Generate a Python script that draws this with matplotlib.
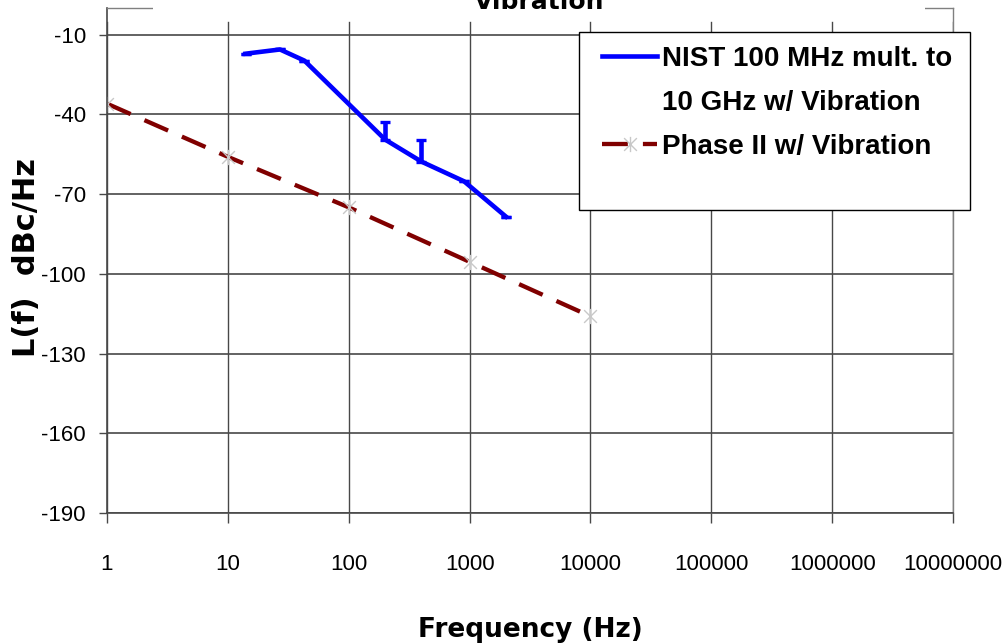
import matplotlib
matplotlib.use("Agg")
import matplotlib.pyplot as plt
from matplotlib.path import Path
from matplotlib.patches import Rectangle
from matplotlib.lines import Line2D
from matplotlib.ticker import FixedLocator, NullLocator, FixedFormatter
from matplotlib import font_manager as fm

# ---------------- data ----------------
nist_freq = [14, 27, 43, 200, 400, 900, 2000]
nist_db = [-17.2, -15.6, -19.8, -49.5, -57.8, -65.2, -78.5]
nist_err_up = [0, 0, 0, 6.5, 8.3, 0, 0]
nist_err_down = [0, 0, 0, 0, 0, 0, 0]

phase_freq = [1, 10, 100, 1000, 10000]
phase_db = [-36, -56, -75, -95.5, -116]

x_ticks = [1, 10, 100, 1000, 10000, 100000, 1000000, 10000000]
x_tick_labels = ["1", "10", "100", "1000", "10000", "100000", "1000000", "10000000"]
y_ticks = [-10, -40, -70, -100, -130, -160, -190]
y_tick_labels = ["-10", "-40", "-70", "-100", "-130", "-160", "-190"]

labels = ["NIST 100 MHz mult. to", "10 GHz w/ Vibration", "Phase II w/ Vibration"]
title_text = "Vibration"
x_label = "Frequency (Hz)"
y_label = "L(f)  dBc/Hz"

# ---------------- fonts ----------------
names = {f.name for f in fm.fontManager.ttflist}
narrow = "Liberation Sans Narrow" if "Liberation Sans Narrow" in names else "Liberation Sans"
plt.rcParams['font.family'] = [narrow, 'DejaVu Sans']

W, H = 1006, 644
fig = plt.figure(figsize=(W / 100, H / 100), dpi=100)
L, R, T, B = 107, 953, 8, 513
ax = fig.add_axes([L / W, 1 - B / H, (R - L) / W, (B - T) / H])

ax.set_xscale('log')
ax.set_xlim(1, 1e7)
ax.set_ylim(-190, 0)

gcol = '#484848'
ax.xaxis.set_major_locator(FixedLocator(x_ticks))
ax.xaxis.set_major_formatter(FixedFormatter(x_tick_labels))
ax.xaxis.set_minor_locator(NullLocator())
ax.set_yticks(y_ticks)
ax.set_yticklabels(y_tick_labels)

ax.grid(axis='y', color=gcol, lw=1.2)
ax.grid(axis='x', visible=False)
for xv in x_ticks:
    ax.axvline(xv, ymin=0, ymax=(B - 22) / (B - T), color=gcol, lw=1.0, zorder=0.5)

for s in ['left', 'bottom']:
    ax.spines[s].set_color(gcol)
    ax.spines[s].set_linewidth(1.2)
for s in ['top', 'right']:
    ax.spines[s].set_color('#808080')
    ax.spines[s].set_linewidth(1.0)

ax.tick_params(axis='y', direction='out', length=5.8, width=1, color=gcol,
               pad=9.4, labelsize=16)
ax.tick_params(axis='x', direction='out', length=7.2, width=1, color=gcol,
               pad=22, labelsize=16)

# NIST series
cont = ax.errorbar(nist_freq, nist_db, yerr=[nist_err_down, nist_err_up],
                   color='#0000ff', lw=3.3, elinewidth=3.3, capsize=3.8, capthick=2.4,
                   zorder=3)
nist_line = cont.lines[0]

# Phase II series
ast = Path([(-1, -1), (1, 1), (-1, 1), (1, -1), (0, -1.2), (0, 1.2)],
           [Path.MOVETO, Path.LINETO, Path.MOVETO, Path.LINETO, Path.MOVETO, Path.LINETO])
phase_line, = ax.plot(phase_freq, phase_db, color='#800000', lw=3.1, dashes=(6, 3.5),
                      marker=ast, ms=11, mec='#c8c8c8', mfc='none', mew=1.0, zorder=2.5)

# white box covering top border behind title
fig.add_artist(Rectangle((153 / W, 1 - 16 / H), (925 - 153) / W, 16 / H,
                         transform=fig.transFigure, fc='white', ec='none', zorder=1))
fig.text(539 / W, 1 - 9 / H, title_text, ha='center', va='baseline', fontsize=18,
         fontweight='bold', family='DejaVu Sans', zorder=3)

# legend frame
fig.add_artist(Rectangle((579 / W, 1 - 210 / H), (970 - 579) / W, (210 - 32) / H,
                         transform=fig.transFigure, fc='white', ec='black', lw=1.0, zorder=2))
blank = Line2D([], [], color='none')
fig.legend([nist_line, blank, phase_line], labels, loc='upper left',
           bbox_to_anchor=(602 / W, 1 - 46 / H), frameon=False, borderpad=0,
           borderaxespad=0, handlelength=1.98, handletextpad=0.18, labelspacing=0.65,
           numpoints=1, prop=fm.FontProperties(family=[narrow, 'DejaVu Sans'],
                                               weight='bold', size=20))

fig.text(530 / W, 1 - 637 / H, x_label, ha='center', va='baseline', fontsize=19,
         fontweight='bold', family='DejaVu Sans')
fig.text(27 / W, 1 - 257 / H, y_label, ha='center', va='center', rotation=90,
         fontsize=22, fontweight='bold', family='DejaVu Sans')

fig.savefig('out.png', dpi=100)
